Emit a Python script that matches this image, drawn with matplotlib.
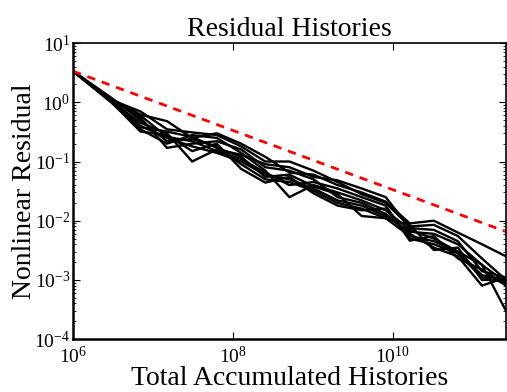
import numpy as np
import matplotlib
matplotlib.use("Agg")
import matplotlib.pyplot as plt
from matplotlib.ticker import LogLocator, NullFormatter

plt.rcParams['font.family'] = ['Liberation Serif', 'DejaVu Serif']
plt.rcParams['mathtext.fontset'] = 'stix'

# cumulative histories: batches of 1e6, 2e6, 4e6, ...
histories = [(2 ** (k + 1) - 1) * 1e6 for k in range(18)]

# nonlinear residual of each run
residuals = [
    [3.35, 1.15, 0.62, 0.48, 0.25, 0.30, 0.20, 0.12, 0.065, 0.060, 0.040, 0.030, 0.021, 0.0090, 0.0100, 0.0063, 0.0040, 0.0025],
    [3.35, 1.10, 0.70, 0.35, 0.31, 0.28, 0.18, 0.10, 0.10, 0.070, 0.045, 0.028, 0.020, 0.0080, 0.0085, 0.0055, 0.0023, 0.0010],
    [3.35, 1.05, 0.45, 0.30, 0.10, 0.16, 0.13, 0.09, 0.08, 0.055, 0.048, 0.035, 0.025, 0.0075, 0.0070, 0.0045, 0.0014, 0.0011],
    [3.35, 1.00, 0.35, 0.20, 0.28, 0.25, 0.14, 0.07, 0.025, 0.040, 0.030, 0.022, 0.015, 0.0070, 0.0050, 0.0030, 0.0018, 0.0003],
    [3.35, 1.12, 0.55, 0.17, 0.20, 0.22, 0.16, 0.08, 0.07, 0.050, 0.025, 0.020, 0.013, 0.0060, 0.0035, 0.0025, 0.0008, 0.0011],
    [3.35, 1.08, 0.40, 0.25, 0.18, 0.14, 0.10, 0.06, 0.05, 0.035, 0.022, 0.018, 0.012, 0.0065, 0.0060, 0.0040, 0.0018, 0.0009],
    [3.35, 1.20, 0.50, 0.22, 0.24, 0.18, 0.09, 0.05, 0.045, 0.032, 0.020, 0.016, 0.011, 0.0055, 0.0045, 0.0030, 0.0012, 0.0010],
    [3.35, 1.02, 0.32, 0.28, 0.15, 0.20, 0.075, 0.044, 0.055, 0.029, 0.018, 0.015, 0.016, 0.0050, 0.0040, 0.0028, 0.0011, 0.0009],
    [3.35, 1.10, 0.60, 0.26, 0.22, 0.15, 0.11, 0.065, 0.04, 0.045, 0.035, 0.025, 0.018, 0.0046, 0.0055, 0.0023, 0.0015, 0.0008],
    [3.35, 1.15, 0.38, 0.32, 0.26, 0.17, 0.12, 0.055, 0.06, 0.038, 0.028, 0.012, 0.011, 0.0085, 0.0032, 0.0035, 0.0010, 0.0010],
]

# reference 1/sqrt(N) slope
ref_start = 3.35

fig = plt.figure(figsize=(5.07, 3.92), dpi=100)
ax = fig.add_axes([0.144, 0.135, 0.854, 0.755])

for r in residuals:
    ax.loglog(histories, r, '-', color='black', linewidth=1.7)

h = np.array(histories)
ax.loglog(h, ref_start * np.sqrt(histories[0] / h), '--', color='red', linewidth=2, dashes=(3, 2.5))

ax.set_xlim(histories[0], histories[-1])
ax.set_ylim(1e-4, 1e1)
ax.set_xticks([1e6, 1e8, 1e10])
ax.xaxis.set_minor_locator(plt.NullLocator())
ax.yaxis.set_major_locator(LogLocator(base=10, numticks=10))
ax.yaxis.set_minor_locator(LogLocator(base=10, subs=np.arange(2, 10), numticks=20))
ax.yaxis.set_minor_formatter(NullFormatter())

ax.tick_params(which='both', direction='in', top=True, right=True, labelsize=14)
ax.tick_params(axis='x', pad=5)
ax.tick_params(axis='y', pad=2)
ax.tick_params(which='major', length=5)
ax.tick_params(which='minor', length=2.5)
for s in ax.spines.values():
    s.set_linewidth(1.2)
ax.spines['left'].set_linewidth(1.8)
ax.spines['bottom'].set_linewidth(1.8)

ax.set_title('Residual Histories', fontsize=20, pad=5)
ax.set_xlabel('Total Accumulated Histories', fontsize=20, labelpad=-1)
ax.set_ylabel('Nonlinear Residual', fontsize=20, labelpad=-2)

fig.savefig('out.png', dpi=100)
